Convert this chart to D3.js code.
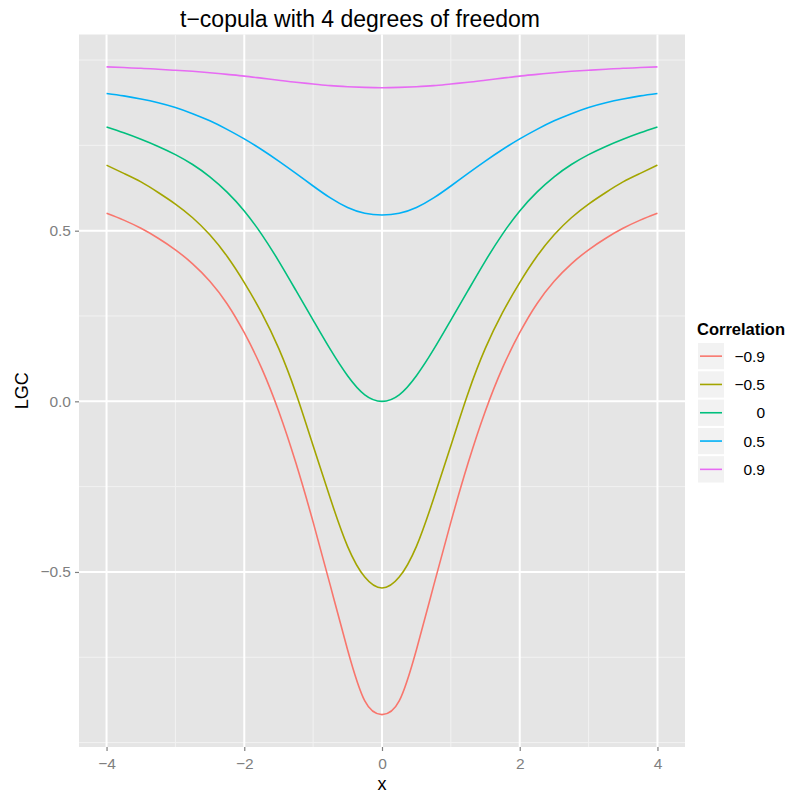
<!DOCTYPE html>
<html>
<head>
<meta charset="utf-8">
<script src="https://cdn.jsdelivr.net/npm/d3@7"></script>
<style>
  html, body { margin: 0; padding: 0; background: #fff; }
  svg { display: block; font-family: "Liberation Sans", Arial, Helvetica, sans-serif; }
</style>
</head>
<body>
<svg id="chart" width="790" height="795"></svg>
<script>
// Local Gaussian correlation along the diagonal for a t-copula (4 df)
const xValues = [-4, -3.75, -3.5, -3.25, -3, -2.75, -2.5, -2.25, -2, -1.75, -1.5, -1.25, -1, -0.75, -0.5, -0.25,
                 0, 0.25, 0.5, 0.75, 1, 1.25, 1.5, 1.75, 2, 2.25, 2.5, 2.75, 3, 3.25, 3.5, 3.75, 4];

const lgcNeg09 = [0.551, 0.531, 0.507, 0.478, 0.444, 0.403, 0.352, 0.286, 0.201, 0.098, -0.029, -0.181, -0.354, -0.540, -0.728, -0.878,
                  -0.918, -0.878, -0.728, -0.540, -0.354, -0.181, -0.029, 0.098, 0.201, 0.286, 0.352, 0.403, 0.444, 0.478, 0.507, 0.531, 0.551];
const lgcNeg05 = [0.692, 0.668, 0.643, 0.612, 0.578, 0.538, 0.488, 0.425, 0.348, 0.260, 0.155, 0.024, -0.130, -0.285, -0.425, -0.515,
                  -0.547, -0.515, -0.425, -0.285, -0.130, 0.024, 0.155, 0.260, 0.348, 0.425, 0.488, 0.538, 0.578, 0.612, 0.643, 0.668, 0.692];
const lgcZero   = [0.804, 0.787, 0.768, 0.747, 0.723, 0.694, 0.658, 0.613, 0.558, 0.490, 0.411, 0.325, 0.238, 0.152, 0.075, 0.019,
                  0.000, 0.019, 0.075, 0.152, 0.238, 0.325, 0.411, 0.490, 0.558, 0.613, 0.658, 0.694, 0.723, 0.747, 0.768, 0.787, 0.804];
const lgcPos05 = [0.902, 0.895, 0.886, 0.875, 0.861, 0.843, 0.822, 0.797, 0.769, 0.738, 0.704, 0.668, 0.631, 0.596, 0.568, 0.551,
                  0.546, 0.551, 0.568, 0.596, 0.631, 0.668, 0.704, 0.738, 0.769, 0.797, 0.822, 0.843, 0.861, 0.875, 0.886, 0.895, 0.902];
const lgcPos09 = [0.980, 0.978, 0.976, 0.973, 0.970, 0.967, 0.963, 0.958, 0.953, 0.947, 0.941, 0.935, 0.930, 0.925, 0.922, 0.920,
                  0.919, 0.920, 0.922, 0.925, 0.930, 0.935, 0.941, 0.947, 0.953, 0.958, 0.963, 0.967, 0.970, 0.973, 0.976, 0.978, 0.980];

const correlationLabels = ["\u22120.9", "\u22120.5", "0", "0.5", "0.9"];
const seriesValues = [lgcNeg09, lgcNeg05, lgcZero, lgcPos05, lgcPos09];
const seriesColors = ["#F8766D", "#A3A500", "#00BF7D", "#00B0F6", "#E76BF3"];

const xTicks = [-4, -2, 0, 2, 4];
const xMinorTicks = [-3, -1, 1, 3];
const yTicks = [-0.5, 0, 0.5];
const yMinorTicks = [-1, -0.75, -0.25, 0.25, 0.75, 1];

const titleText = "t\u2212copula with 4 degrees of freedom";
const xLabel = "x";
const yLabel = "LGC";
const legendTitle = "Correlation";

// Panel geometry
const panel = { left: 79, right: 685, top: 34.5, bottom: 747 };

const svg = d3.select("#chart");

// ggplot-style 5% expansion of data ranges
const xExt = d3.extent(xValues);
const xPad = (xExt[1] - xExt[0]) * 0.05;
const allY = seriesValues.flat();
const yExt = d3.extent(allY);
const yPad = (yExt[1] - yExt[0]) * 0.05;

const x = d3.scaleLinear().domain([xExt[0] - xPad, xExt[1] + xPad]).range([panel.left, panel.right]);
const y = d3.scaleLinear().domain([yExt[0] - yPad, yExt[1] + yPad]).range([panel.bottom, panel.top]);

// Panel background
svg.append("rect")
  .attr("x", panel.left).attr("y", panel.top)
  .attr("width", panel.right - panel.left).attr("height", panel.bottom - panel.top)
  .attr("fill", "#E5E5E5");

const grid = svg.append("g");
// Minor grid
grid.selectAll("line.xminor").data(xMinorTicks).join("line")
  .attr("x1", d => x(d)).attr("x2", d => x(d))
  .attr("y1", panel.top).attr("y2", panel.bottom)
  .attr("stroke", "#F2F2F2").attr("stroke-width", 1);
grid.selectAll("line.yminor").data(yMinorTicks).join("line")
  .attr("x1", panel.left).attr("x2", panel.right)
  .attr("y1", d => y(d)).attr("y2", d => y(d))
  .attr("stroke", "#F2F2F2").attr("stroke-width", 1);
// Major grid
grid.selectAll("line.xmajor").data(xTicks).join("line")
  .attr("x1", d => x(d)).attr("x2", d => x(d))
  .attr("y1", panel.top).attr("y2", panel.bottom)
  .attr("stroke", "#FFFFFF").attr("stroke-width", 2);
grid.selectAll("line.ymajor").data(yTicks).join("line")
  .attr("x1", panel.left).attr("x2", panel.right)
  .attr("y1", d => y(d)).attr("y2", d => y(d))
  .attr("stroke", "#FFFFFF").attr("stroke-width", 2);

// Curves
const line = d3.line()
  .x(d => x(d[0]))
  .y(d => y(d[1]))
  .curve(d3.curveNatural);

svg.append("g").selectAll("path").data(seriesValues).join("path")
  .attr("d", vals => line(xValues.map((xv, i) => [xv, vals[i]])))
  .attr("fill", "none")
  .attr("stroke", (d, i) => seriesColors[i])
  .attr("stroke-width", 1.6);

// Axes
const fmtX = d => d < 0 ? "\u2212" + Math.abs(d) : String(d);
const fmtY = d => (d < 0 ? "\u2212" : "") + Math.abs(d).toFixed(1);

const xAxis = svg.append("g")
  .attr("transform", `translate(0,${panel.bottom})`)
  .call(d3.axisBottom(x).tickValues(xTicks).tickSize(4).tickPadding(4).tickFormat(fmtX));
const yAxis = svg.append("g")
  .attr("transform", `translate(${panel.left},0)`)
  .call(d3.axisLeft(y).tickValues(yTicks).tickSize(4).tickPadding(4).tickFormat(fmtY));

[xAxis, yAxis].forEach(ax => {
  ax.select(".domain").remove();
  ax.selectAll(".tick line").attr("stroke", "#7F7F7F").attr("stroke-width", 1.2);
  ax.selectAll(".tick text")
    .attr("fill", "#7F7F7F")
    .style("font-size", "15.5px")
    .style("font-family", "'Liberation Sans', Arial, sans-serif");
});
xAxis.selectAll(".tick text").attr("dy", "0.9em");

// Axis titles
svg.append("text")
  .attr("x", (panel.left + panel.right) / 2).attr("y", 790)
  .attr("text-anchor", "middle")
  .style("font-size", "18px")
  .text(xLabel);

svg.append("text")
  .attr("transform", `translate(28,${(panel.top + panel.bottom) / 2}) rotate(-90)`)
  .attr("text-anchor", "middle")
  .style("font-size", "18px")
  .text(yLabel);

// Title
svg.append("text")
  .attr("x", 360).attr("y", 27)
  .attr("text-anchor", "middle")
  .style("font-size", "23px")
  .text(titleText);

// Legend
const legend = svg.append("g").attr("transform", "translate(697,0)");
legend.append("text")
  .attr("x", 0).attr("y", 335)
  .style("font-size", "16.5px")
  .style("font-weight", "bold")
  .text(legendTitle);

const keyH = 28.3, keyW = 27, keyTop = 342;
const rows = legend.selectAll("g.key").data(correlationLabels).join("g")
  .attr("transform", (d, i) => `translate(0,${keyTop + i * keyH})`);
rows.append("rect")
  .attr("x", 0.5).attr("y", 0.5)
  .attr("width", keyW).attr("height", keyH - 1)
  .attr("fill", "#F2F2F2").attr("stroke", "#FFFFFF").attr("stroke-width", 1);
rows.append("line")
  .attr("x1", 3).attr("x2", keyW - 2)
  .attr("y1", keyH / 2).attr("y2", keyH / 2)
  .attr("stroke", (d, i) => seriesColors[i])
  .attr("stroke-width", 1.6);
rows.append("text")
  .attr("x", 68).attr("y", keyH / 2)
  .attr("dy", "0.36em")
  .attr("text-anchor", "end")
  .style("font-size", "15.5px")
  .text(d => d);
</script>
</body>
</html>
